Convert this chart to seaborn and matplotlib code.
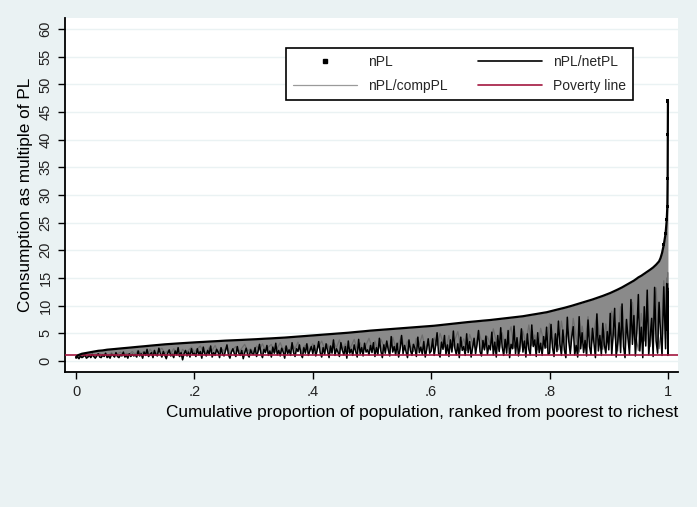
import numpy as np
import pandas as pd
import matplotlib
matplotlib.use("Agg")
import matplotlib.pyplot as plt
import seaborn as sns
from matplotlib.lines import Line2D

sns.set_style("white")
plt.rcParams["font.family"] = ["Liberation Sans", "DejaVu Sans"]

# ---------------- data ----------------
# population share (rank / N) at which each series is read
tail_share = [0.993, 0.996, 0.998, 0.999, 0.9995, 0.9998, 1.0]
pop_share = list(np.round(np.arange(397) * 0.0025, 4)) + tail_share      # fine grid
comp_share = list(np.round(np.arange(199) * 0.005, 3)) + tail_share      # coarser grid

nPL = [
    0.7, 0.95, 1.1, 1.2, 1.3, 1.35, 1.4, 1.45, 1.5, 1.55, 1.6, 1.65, 1.7, 1.75, 1.8, 1.83, 1.85, 1.88, 1.9, 1.95,
    2.0, 2.03, 2.05, 2.08, 2.1, 2.13, 2.15, 2.18, 2.2, 2.23, 2.25, 2.28, 2.3, 2.33, 2.35, 2.38, 2.4, 2.43, 2.45, 2.48,
    2.5, 2.53, 2.55, 2.58, 2.6, 2.63, 2.65, 2.68, 2.7, 2.73, 2.75, 2.78, 2.8, 2.83, 2.85, 2.88, 2.9, 2.93, 2.95, 2.98,
    3.0, 3.02, 3.03, 3.05, 3.07, 3.09, 3.1, 3.12, 3.14, 3.16, 3.18, 3.2, 3.21, 3.23, 3.25, 3.27, 3.28, 3.3, 3.32, 3.34,
    3.35, 3.37, 3.38, 3.4, 3.41, 3.43, 3.44, 3.46, 3.47, 3.49, 3.5, 3.52, 3.53, 3.55, 3.56, 3.58, 3.59, 3.61, 3.62, 3.64,
    3.65, 3.67, 3.68, 3.69, 3.7, 3.72, 3.73, 3.74, 3.75, 3.77, 3.78, 3.79, 3.8, 3.82, 3.83, 3.84, 3.85, 3.87, 3.88, 3.89,
    3.9, 3.92, 3.93, 3.95, 3.96, 3.98, 3.99, 4.01, 4.02, 4.04, 4.05, 4.07, 4.08, 4.1, 4.11, 4.13, 4.14, 4.16, 4.17, 4.19,
    4.2, 4.22, 4.24, 4.26, 4.28, 4.3, 4.32, 4.34, 4.36, 4.38, 4.4, 4.42, 4.44, 4.46, 4.48, 4.5, 4.52, 4.54, 4.56, 4.58,
    4.6, 4.62, 4.64, 4.66, 4.68, 4.7, 4.72, 4.74, 4.76, 4.78, 4.8, 4.82, 4.84, 4.86, 4.88, 4.9, 4.92, 4.94, 4.96, 4.98,
    5.0, 5.03, 5.05, 5.08, 5.1, 5.13, 5.15, 5.18, 5.2, 5.23, 5.25, 5.28, 5.3, 5.33, 5.35, 5.38, 5.4, 5.43, 5.45, 5.48,
    5.5, 5.52, 5.54, 5.56, 5.58, 5.6, 5.62, 5.64, 5.66, 5.68, 5.7, 5.72, 5.74, 5.76, 5.78, 5.8, 5.82, 5.84, 5.86, 5.88,
    5.9, 5.92, 5.94, 5.96, 5.98, 6.0, 6.02, 6.04, 6.06, 6.08, 6.1, 6.12, 6.14, 6.16, 6.18, 6.2, 6.22, 6.24, 6.26, 6.28,
    6.3, 6.33, 6.36, 6.39, 6.42, 6.45, 6.48, 6.51, 6.54, 6.57, 6.6, 6.63, 6.66, 6.69, 6.72, 6.75, 6.78, 6.81, 6.84, 6.87,
    6.9, 6.93, 6.95, 6.98, 7.0, 7.03, 7.05, 7.08, 7.1, 7.13, 7.15, 7.18, 7.2, 7.23, 7.25, 7.28, 7.3, 7.33, 7.35, 7.38,
    7.4, 7.43, 7.46, 7.49, 7.52, 7.55, 7.58, 7.61, 7.64, 7.67, 7.7, 7.73, 7.76, 7.79, 7.82, 7.85, 7.88, 7.91, 7.94, 7.97,
    8.0, 8.04, 8.08, 8.13, 8.17, 8.22, 8.26, 8.31, 8.35, 8.4, 8.44, 8.49, 8.53, 8.58, 8.62, 8.67, 8.71, 8.76, 8.8, 8.87,
    8.95, 9.01, 9.08, 9.14, 9.21, 9.27, 9.34, 9.4, 9.47, 9.53, 9.6, 9.67, 9.75, 9.82, 9.9, 9.97, 10.05, 10.12, 10.2, 10.27,
    10.35, 10.43, 10.52, 10.6, 10.69, 10.77, 10.86, 10.94, 11.03, 11.11, 11.2, 11.29, 11.38, 11.47, 11.56, 11.66, 11.76, 11.86, 11.96, 12.05,
    12.15, 12.28, 12.4, 12.53, 12.65, 12.78, 12.9, 13.03, 13.15, 13.3, 13.45, 13.6, 13.75, 13.9, 14.05, 14.2, 14.35, 14.52, 14.7, 14.9,
    15.1, 15.25, 15.4, 15.58, 15.75, 15.92, 16.1, 16.3, 16.5, 16.7, 16.9, 17.15, 17.4, 17.7, 18.0, 18.6, 19.5,
    21.0, 23.0, 25.5, 28.0, 33.0, 41.0, 47.0,
]

nPL_netPL = [
    0.5, 0.7, 0.4, 0.9, 0.6, 0.8, 1.1, 0.5, 0.7, 1.0, 0.6, 1.2, 0.8, 0.5, 0.9, 1.3, 0.7, 0.6, 1.1, 0.8,
    1.4, 0.6, 0.9, 0.5, 1.2, 1.0, 0.7, 1.5, 0.8, 0.6, 1.1, 0.9, 1.6, 0.7, 1.0, 0.5, 1.3, 0.8, 1.2, 0.9,
    1.1, 0.7, 1.8, 0.9, 1.3, 0.5, 1.6, 1.0, 2.1, 0.8, 1.2, 1.5, 0.6, 1.9, 1.1, 0.9, 2.3, 1.3, 0.7, 1.7,
    1.0, 0.4, 1.4, 2.0, 0.9, 1.2, 0.6, 1.8, 1.1, 2.4, 0.8, 1.5, 0.2, 1.3, 1.9, 0.9, 1.6, 0.7, 2.2, 1.2,
    1.4, 0.8, 2.2, 1.1, 1.7, 0.5, 2.5, 1.3, 0.9, 1.9, 1.2, 2.7, 0.7, 1.5, 1.0, 2.1, 1.6, 0.6, 2.4, 1.2,
    0.9, 1.8, 2.9, 1.1, 0.5, 1.6, 2.2, 1.3, 0.8, 2.6, 1.4, 1.0, 1.9, 0.4, 1.5, 2.3, 1.1, 0.7, 2.0, 1.3,
    1.2, 2.4, 0.8, 1.7, 3.0, 1.3, 0.6, 2.1, 1.5, 2.8, 1.0, 1.8, 0.7, 2.5, 1.4, 3.2, 1.1, 1.9, 0.9, 2.3,
    1.6, 0.5, 2.7, 1.3, 2.0, 1.0, 3.3, 1.5, 0.8, 2.2, 1.7, 2.9, 1.2, 0.6, 2.4, 1.4, 3.1, 1.0, 1.8, 2.6,
    1.3, 2.8, 0.9, 2.0, 3.5, 1.5, 0.7, 2.4, 1.2, 3.1, 1.8, 0.6, 2.7, 1.4, 3.8, 1.0, 2.2, 1.6, 0.8, 3.3,
    1.9, 1.1, 2.6, 0.5, 3.6, 1.4, 2.1, 1.0, 2.9, 1.7, 0.7, 3.9, 1.3, 2.4, 0.9, 3.2, 1.6, 2.0, 1.1, 2.8,
    1.5, 3.3, 0.8, 2.4, 1.2, 4.1, 1.8, 0.6, 2.9, 1.4, 3.6, 2.0, 0.9, 4.4, 1.6, 2.6, 1.1, 3.2, 0.7, 2.2,
    4.6, 1.3, 2.8, 1.7, 0.6, 3.8, 1.9, 1.0, 3.0, 2.3, 0.8, 4.3, 1.5, 2.5, 1.2, 3.5, 0.7, 2.1, 4.0, 1.4,
    1.8, 4.0, 1.0, 2.7, 5.1, 1.4, 0.7, 3.4, 2.1, 4.6, 1.2, 2.9, 0.8, 3.8, 1.6, 5.4, 2.3, 1.1, 3.1, 0.6,
    4.3, 1.9, 2.6, 1.0, 4.9, 1.5, 3.5, 0.7, 2.4, 4.1, 1.3, 3.0, 5.5, 1.7, 0.9, 3.7, 2.0, 4.5, 1.2, 2.8,
    2.0, 5.2, 1.1, 3.4, 0.7, 4.6, 1.7, 6.0, 2.5, 1.0, 3.9, 1.4, 5.5, 0.6, 3.0, 2.2, 6.3, 1.3, 4.2, 0.9,
    2.8, 5.8, 1.6, 3.6, 0.7, 4.9, 2.1, 1.1, 6.5, 2.6, 3.8, 0.8, 5.1, 1.5, 3.2, 1.0, 4.4, 2.3, 6.1, 1.2,
    1.4, 6.6, 2.4, 0.8, 4.9, 1.7, 7.2, 3.1, 1.0, 5.6, 2.0, 0.6, 7.9, 3.5, 1.3, 4.3, 6.2, 1.1, 2.8, 0.7,
    8.0, 2.2, 5.1, 1.5, 3.7, 0.9, 7.4, 2.6, 1.2, 5.9, 3.3, 0.6, 8.5, 1.8, 4.6, 1.0, 6.8, 2.9, 1.4, 5.3,
    2.0, 8.6, 1.1, 4.8, 9.5, 0.7, 3.2, 6.9, 1.5, 10.3, 2.6, 0.6, 7.5, 4.1, 1.2, 11.1, 3.0, 8.2, 0.9, 5.4,
    12.0, 1.8, 6.1, 0.6, 9.8, 2.7, 12.8, 1.1, 4.5, 7.7, 0.8, 13.3, 3.6, 1.4, 10.6, 5.2, 1.0,
    13.4, 2.2, 14.0, 5.5, 13.2, 1.0, 12.5,
]

nPL_compPL = [
    0.6, 0.8, 0.7, 1.0, 0.9, 1.2, 0.8, 1.1, 1.3, 0.9, 1.2, 1.0, 1.5, 0.9, 1.3, 1.6, 1.0, 1.4, 1.2, 1.7,
    1.2, 1.9, 1.4, 1.7, 1.0, 2.1, 1.5, 1.2, 1.9, 2.3, 1.4, 1.8, 1.3, 2.2, 1.6, 0.8, 2.1, 1.5, 1.9, 2.5,
    1.6, 2.2, 2.7, 1.7, 1.3, 2.4, 1.9, 2.8, 1.5, 2.3, 1.8, 2.7, 1.2, 2.1, 2.6, 1.7, 2.3, 3.0, 1.8, 2.2,
    1.5, 2.7, 2.0, 3.1, 1.8, 2.5, 3.0, 1.4, 2.3, 3.3, 2.0, 2.7, 1.7, 3.0, 2.2, 3.4, 1.6, 2.6, 3.0, 2.0,
    3.1, 1.9, 2.6, 3.6, 2.2, 3.0, 1.5, 3.4, 2.4, 3.8, 2.0, 3.1, 1.6, 2.7, 3.9, 2.1, 3.3, 1.8, 2.9, 4.1,
    2.4, 3.6, 1.8, 3.9, 2.7, 3.3, 1.6, 4.3, 2.5, 3.1, 4.5, 2.0, 3.6, 2.6, 1.7, 4.1, 3.0, 4.7, 2.2, 3.4,
    2.0, 4.2, 2.8, 5.0, 3.3, 2.1, 4.6, 1.8, 3.8, 5.3, 2.6, 4.0, 1.9, 4.8, 3.2, 2.4, 5.5, 3.6, 2.1, 4.4,
    3.0, 5.8, 3.5, 1.8, 5.1, 2.6, 4.3, 6.2, 2.3, 3.9, 1.7, 5.4, 3.1, 6.5, 2.8, 4.7, 2.0, 5.9, 3.6, 2.4,
    6.8, 3.0, 5.0, 2.0, 7.2, 3.8, 5.6, 2.5, 7.7, 4.2, 1.6, 6.3, 3.3, 8.0, 2.7, 5.3, 8.5, 4.0, 2.1, 6.7,
    3.2, 9.0, 4.6, 1.8, 9.8, 3.8, 7.3, 2.4, 10.6, 5.2, 1.9, 8.6, 3.6, 11.8, 2.6, 7.8, 13.2, 2.2, 6.4,
    14.5, 4.0, 15.0, 10.0, 16.0, 8.0, 14.0,
]

poverty_line = 1.0

y_ticks = list(range(0, 61, 5))
x_ticks = [0, 0.2, 0.4, 0.6, 0.8, 1.0]
x_tick_labels = ["0", ".2", ".4", ".6", ".8", "1"]
series_labels = ["nPL", "nPL/netPL", "nPL/compPL", "Poverty line"]
x_title = "Cumulative proportion of population, ranked from poorest to richest"
y_title = "Consumption as multiple of PL"

df = pd.DataFrame({"share": pop_share, "nPL": nPL, "net": nPL_netPL})
dfc = pd.DataFrame({"share": comp_share, "comp": nPL_compPL})

# ---------------- figure ----------------
W, H = 697, 507
bg = "#EAF2F3"
fig = plt.figure(figsize=(W / 100, H / 100), dpi=100, facecolor=bg)
ax = fig.add_axes([65 / W, 1 - 372 / H, 613 / W, 354 / H])
ax.set_facecolor("white")

ax.set_xlim(-0.0186, 1.017)
ax.set_ylim(-2.0, 62.0)
ax.yaxis.grid(True, color=bg, lw=1.0)
ax.xaxis.grid(False)
ax.set_axisbelow(True)

gray = "#8A8A8A"
# nPL/compPL: dense gray lines that fill the band up to nPL
ax.fill_between(df["share"], df["net"], df["nPL"], color=gray, lw=0, zorder=2)
sns.lineplot(data=dfc, x="share", y="comp", color="#6E6E6E", lw=0.9,
             estimator=None, sort=False, ax=ax, zorder=3)
sns.lineplot(data=df, x="share", y="net", color="black", lw=1.1,
             estimator=None, sort=False, ax=ax, zorder=4)
ax.axhline(poverty_line, color="#A3173F", lw=1.2, zorder=5)
sns.lineplot(data=df, x="share", y="nPL", color="black", lw=1.6,
             estimator=None, sort=False, ax=ax, zorder=6)
sns.scatterplot(data=df.iloc[-7:], x="share", y="nPL", color="black", marker="s",
                s=5, edgecolor="none", ax=ax, zorder=7)

for side in ["top", "right"]:
    ax.spines[side].set_visible(False)
for side in ["left", "bottom"]:
    ax.spines[side].set_color("black")
    ax.spines[side].set_linewidth(1.3)

ax.set_xticks(x_ticks)
ax.set_xticklabels(x_tick_labels)
ax.set_yticks(y_ticks)
ax.set_yticklabels([str(v) for v in y_ticks], rotation=90, va="center")
ax.tick_params(axis="both", which="major", bottom=True, left=True,
               direction="out", length=5, width=1, color="black",
               labelsize=10.5, labelcolor="#222222", pad=4)

ax.set_xlabel(x_title, loc="right", fontsize=12.4, labelpad=5, color="black")
ax.set_ylabel(y_title, fontsize=12.4, labelpad=4, color="black")

handles = [
    Line2D([], [], color="black", marker="s", markersize=2.2, linestyle="none"),
    Line2D([], [], color="#9A9A9A", lw=0.9),
    Line2D([], [], color="black", lw=1.2),
    Line2D([], [], color="#A3173F", lw=1.2),
]
labels = [series_labels[0], series_labels[2], series_labels[1], series_labels[3]]
leg = fig.legend(handles, labels, ncol=2, loc="upper left",
                 bbox_to_anchor=(286 / W, 1 - 48 / H), frameon=True,
                 fancybox=False, edgecolor="black", framealpha=1,
                 fontsize=10, handlelength=4.6, handletextpad=0.8,
                 columnspacing=2.2, labelspacing=0.7, borderpad=0.5,
                 borderaxespad=0)
leg.get_frame().set_linewidth(1.2)

fig.savefig("out.png", dpi=100, facecolor=bg)
